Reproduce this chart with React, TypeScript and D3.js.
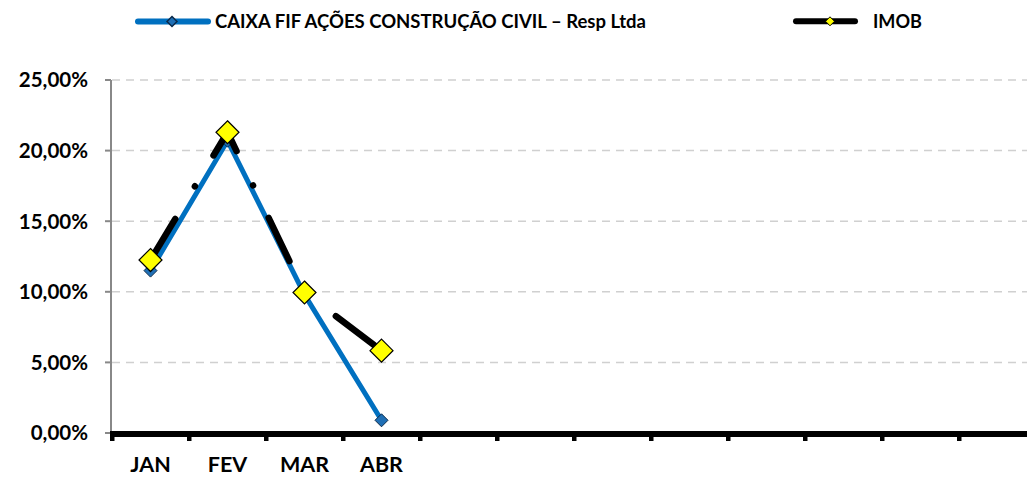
import React from "react";
import * as d3 from "d3";

const categories = ["JAN", "FEV", "MAR", "ABR", "MAI", "JUN", "JUL", "AGO", "SET", "OUT", "NOV", "DEZ"];
const tickLabels = ["JAN", "FEV", "MAR", "ABR", "", "", "", "", "", "", "", ""];
const caixaValues = [0.115, 0.207, 0.098, 0.009];
const imobValues = [0.1225, 0.213, 0.0995, 0.0583];
const yTicks = [0, 0.05, 0.1, 0.15, 0.2, 0.25];
const seriesNames = ["CAIXA FIF AÇÕES CONSTRUÇÃO CIVIL – Resp Ltda", "IMOB"];

const W = 1027;
const H = 477;
const FONT = "Lato, 'Open Sans', sans-serif";

export default function App() {
  const x = d3.scaleBand<string>().domain(categories).range([112, 1036]).padding(0);
  const y = d3.scaleLinear().domain([0, 0.25]).range([433, 80]);
  const cx = (i: number) => (x(categories[i]) as number) + x.bandwidth() / 2;
  const fmt = (v: number) => (v * 100).toFixed(2).replace(".", ",") + "%";

  const line = d3.line<number>().x((_, i) => cx(i)).y((d) => y(d));
  const diamond = (r: number) => `M0,${-r}L${r},0L0,${r}L${-r},0Z`;

  const boundaries = d3.range(categories.length + 1).map((i) => 112 + i * x.bandwidth());

  return (
    <div style={{ position: "absolute", left: 0, top: 0 }}>
      <svg width={W} height={H} style={{ display: "block", background: "#fff" }} fontFamily={FONT}>
        {/* gridlines */}
        {yTicks.filter((t) => t > 0).map((t) => (
          <line key={t} x1={112} x2={W} y1={y(t)} y2={y(t)} stroke="#D0D0D0" strokeWidth={1.5} strokeDasharray="8 6" />
        ))}
        {/* y axis */}
        <line x1={111} x2={111} y1={y(0.25)} y2={y(0)} stroke="#888" strokeWidth={2} />
        {yTicks.map((t) => (
          <g key={"yt" + t}>
            <line x1={105} x2={111} y1={y(t)} y2={y(t)} stroke="#888" strokeWidth={2} />
            <text x={88} y={y(t)} dy="0.36em" textAnchor="end" fontSize={20.5} fontWeight="bold" fill="#000">
              {fmt(t)}
            </text>
          </g>
        ))}
        {/* x axis */}
        <line x1={110} x2={W} y1={434} y2={434} stroke="#000" strokeWidth={6} />
        {boundaries.map((b, i) => (
          <rect key={"xt" + i} x={b - 2} y={434} width={4.5} height={7} fill="#000" />
        ))}
        {tickLabels.map((l, i) =>
          l ? (
            <text key={"xl" + i} x={cx(i)} y={472} textAnchor="middle" fontSize={21.5} fontWeight="bold" fill="#000">
              {l}
            </text>
          ) : null
        )}
        {/* CAIXA series */}
        <path d={line(caixaValues) || ""} fill="none" stroke="#0070C0" strokeWidth={5} strokeLinejoin="round" />
        {caixaValues.map((v, i) => (
          <path key={"cm" + i} d={diamond(6.5)} transform={`translate(${cx(i)},${y(v)})`} fill="#1F6FB5" stroke="#0B2A4A" strokeWidth={1} />
        ))}
        {/* IMOB series */}
        <path d={line(imobValues) || ""} fill="none" stroke="#000" strokeWidth={6.5} strokeLinecap="round" strokeLinejoin="round" strokeDasharray="48 38 0.1 36" />
        {imobValues.map((v, i) => (
          <path key={"im" + i} d={diamond(11.5)} transform={`translate(${cx(i)},${y(v)})`} fill="#FFFF00" stroke="#000" strokeWidth={1.2} />
        ))}
        {/* legend */}
        <line x1={138} x2={208} y1={21.5} y2={21.5} stroke="#0070C0" strokeWidth={6} strokeLinecap="round" />
        <path d={diamond(5)} transform="translate(172,21.5)" fill="#1F6FB5" stroke="#0B2A4A" strokeWidth={1.5} />
        <text x={215} y={28} fontSize={19} fontWeight="bold" fill="#000" textLength={431} lengthAdjust="spacingAndGlyphs">
          {seriesNames[0]}
        </text>
        <line x1={796} x2={855} y1={21.3} y2={21.3} stroke="#000" strokeWidth={6} strokeLinecap="round" />
        <path d={diamond(4.5)} transform="translate(830,21.3)" fill="#FFFF00" stroke="#000" strokeWidth={1} />
        <text x={873} y={28} fontSize={19} fontWeight="bold" fill="#000" textLength={49} lengthAdjust="spacingAndGlyphs">
          {seriesNames[1]}
        </text>
      </svg>
    </div>
  );
}
